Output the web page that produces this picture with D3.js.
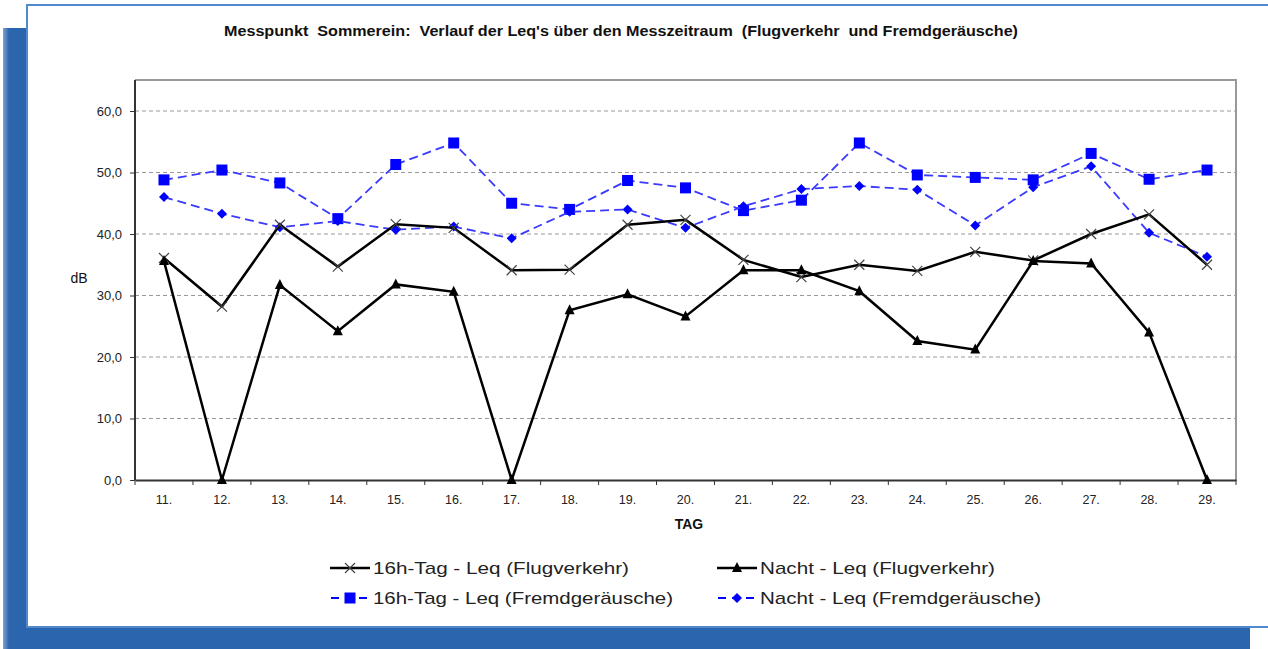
<!DOCTYPE html>
<html>
<head>
<meta charset="utf-8">
<script src="https://cdn.jsdelivr.net/npm/d3@7"></script>
<style>
    body { margin: 0; background: #fff; }
    svg { display: block; font-family: Arial, "Liberation Sans", sans-serif; }
</style>
</head>
<body>
<div id="chart"></div>
<script>
(function () {

    const days = ["11.", "12.", "13.", "14.", "15.", "16.", "17.", "18.", "19.", "20.",
        "21.", "22.", "23.", "24.", "25.", "26.", "27.", "28.", "29."]

    const tagFlug = [36.1, 28.2, 41.5, 34.7, 41.6, 41.0, 34.1, 34.2, 41.5, 42.3,
        35.8, 33.0, 35.0, 34.0, 37.1, 35.7, 40.0, 43.2, 35.0]
    const nachtFlug = [35.6, 0.0, 31.7, 24.2, 31.8, 30.6, 0.0, 27.6, 30.2, 26.6,
        34.1, 34.1, 30.7, 22.6, 21.2, 35.6, 35.2, 24.0, 0.0]
    const tagFremd = [48.8, 50.4, 48.3, 42.5, 51.3, 54.8, 45.0, 44.0, 48.7, 47.5,
        43.8, 45.5, 54.8, 49.6, 49.2, 48.8, 53.1, 48.9, 50.4]
    const nachtFremd = [46.0, 43.3, 41.1, 42.1, 40.7, 41.2, 39.3, 43.6, 44.0, 41.0,
        44.5, 47.3, 47.8, 47.2, 41.4, 47.6, 51.0, 40.2, 36.3]

    const yTicks = [0, 10, 20, 30, 40, 50, 60]

    const series = [
        { name: "16h-Tag - Leq (Flugverkehr)", values: tagFlug, color: "#000", dash: null, marker: "x" },
        { name: "Nacht - Leq (Flugverkehr)", values: nachtFlug, color: "#000", dash: null, marker: "tri" },
        { name: "16h-Tag - Leq (Fremdgeräusche)", values: tagFremd, color: "#3a3aff", dash: "9,5", marker: "sq" },
        { name: "Nacht - Leq (Fremdgeräusche)", values: nachtFremd, color: "#3a3aff", dash: "9,5", marker: "dia" }
    ]

    const width = 1268, height = 649
    const plot = { left: 135, right: 1236, top: 80, bottom: 480 }

    const svg = d3.select("#chart").append("svg")
        .attr("width", width)
        .attr("height", height)

    // blue backdrop + white card
    const grad = svg.append("defs").append("linearGradient")
        .attr("id", "edge").attr("x1", 0).attr("x2", 1)
    grad.append("stop").attr("offset", "0%").attr("stop-color", "#7fa3d1")
    grad.append("stop").attr("offset", "100%").attr("stop-color", "#2b65ad")
    svg.append("rect").attr("x", 3).attr("y", 28).attr("width", 1247).attr("height", 621).attr("fill", "#2b65ad")
    svg.append("rect").attr("x", 3).attr("y", 28).attr("width", 6).attr("height", 621).attr("fill", "url(#edge)")
    svg.append("rect").attr("x", 27).attr("y", 5).attr("width", 1260).attr("height", 622)
        .attr("fill", "#fff").attr("stroke", "#5089cc").attr("stroke-width", 2)

    svg.append("text")
        .attr("x", 224).attr("y", 36)
        .attr("font-size", 14).attr("font-weight", "bold")
        .attr("textLength", 794).attr("lengthAdjust", "spacingAndGlyphs")
        .attr("fill", "#111")
        .style("white-space", "pre")
        .text("Messpunkt  Sommerein:  Verlauf der Leq's über den Messzeitraum  (Flugverkehr  und Fremdgeräusche)")

    const x = d3.scaleBand().domain(days).range([plot.left, plot.right])
    const y = d3.scaleLinear().domain([0, 60]).range([plot.bottom, plot.top + 31])

    // plot frame (top/right grey)
    svg.append("path")
        .attr("d", `M${plot.left},${plot.top}H${plot.right}V${plot.bottom}`)
        .attr("fill", "none").attr("stroke", "#999").attr("stroke-width", 2)

    // gridlines
    svg.append("g").selectAll("line")
        .data(yTicks.filter(d => d > 0))
        .enter().append("line")
        .attr("x1", plot.left).attr("x2", plot.right)
        .attr("y1", d => y(d)).attr("y2", d => y(d))
        .attr("stroke", "#999").attr("stroke-dasharray", "4,3")

    const yAxis = svg.append("g")
        .attr("transform", `translate(${plot.left},0)`)
        .call(d3.axisLeft(y).tickValues(yTicks).tickSize(5).tickPadding(8)
            .tickFormat(d => d3.format(".1f")(d).replace(".", ",")))
    yAxis.select(".domain").attr("d", `M0,${plot.bottom}V${plot.top}`).attr("stroke", "#333").attr("stroke-width", 2)
    yAxis.selectAll(".tick line").attr("stroke", "#333")
    yAxis.selectAll("text").attr("font-size", 13).attr("fill", "#222").attr("font-family", "Arial, sans-serif")

    const xAxis = svg.append("g")
        .attr("transform", `translate(0,${plot.bottom})`)
        .call(d3.axisBottom(x).tickSize(0).tickPadding(15))
    xAxis.select(".domain").attr("stroke", "#333").attr("stroke-width", 2)
    xAxis.selectAll("text").attr("font-size", 12.5).attr("fill", "#222").attr("font-family", "Arial, sans-serif")
    xAxis.selectAll(".sep")
        .data(days.concat([null]))
        .enter().append("line")
        .attr("x1", (d, i) => plot.left + i * x.step()).attr("x2", (d, i) => plot.left + i * x.step())
        .attr("y1", 0).attr("y2", 5)
        .attr("stroke", "#333")

    svg.append("text").attr("x", 689).attr("y", 529).attr("text-anchor", "middle")
        .attr("font-size", 14).attr("font-weight", "bold").attr("fill", "#111").text("TAG")
    svg.append("text").attr("x", 79).attr("y", 283).attr("text-anchor", "middle")
        .attr("font-size", 14).attr("fill", "#111").text("dB")

    function drawMarker(g, type, color) {
        if (type === "x") {
            g.append("path").attr("d", "M-5,-5L5,5M-5,5L5,-5").attr("stroke", "#444").attr("stroke-width", 1.2).attr("fill", "none")
        } else if (type === "tri") {
            g.append("path").attr("d", "M0,-6L5,4L-5,4Z").attr("fill", "#000")
        } else if (type === "sq") {
            g.append("rect").attr("x", -5.5).attr("y", -5.5).attr("width", 11).attr("height", 11).attr("fill", "#0000ff")
        } else {
            g.append("path").attr("d", "M0,-5L5,0L0,5L-5,0Z").attr("fill", "#0000ff")
        }
    }

    const line = d3.line()
        .x((d, i) => x(days[i]) + x.bandwidth() / 2)
        .y(d => y(d))

    const plotG = svg.append("g")
    // draw Fremd first so Flug lines sit on top
    ;[2, 3, 0, 1].forEach(k => {
        const s = series[k]
        plotG.append("path")
            .attr("d", line(s.values))
            .attr("fill", "none")
            .attr("stroke", s.color)
            .attr("stroke-width", s.dash ? 1.8 : 2.5)
            .attr("stroke-dasharray", s.dash)
        s.values.forEach((v, i) => {
            const g = plotG.append("g")
                .attr("transform", `translate(${x(days[i]) + x.bandwidth() / 2},${y(v)})`)
            drawMarker(g, s.marker, s.color)
        })
    })

    // legend
    const legendPos = [[330, 568], [717, 568], [330, 598], [717, 598]]
    const legendLen = [256, 235, 300, 281]
    series.forEach((s, k) => {
        const [lx, ly] = legendPos[k]
        const g = svg.append("g").attr("transform", `translate(${lx},${ly})`)
        g.append("line").attr("x1", 0).attr("x2", 40).attr("y1", 0).attr("y2", 0)
            .attr("stroke", s.dash ? "#0000ff" : "#000")
            .attr("stroke-width", s.dash ? 1.8 : 2.5)
            .attr("stroke-dasharray", s.dash ? "8,6" : null)
            .attr("stroke-dashoffset", s.dash ? -1 : 0)
        const m = g.append("g").attr("transform", "translate(20,0)")
        drawMarker(m, s.marker, s.color)
        g.append("text").attr("x", 43).attr("y", 6)
            .attr("font-size", 17).attr("fill", "#222")
            .attr("textLength", legendLen[k]).attr("lengthAdjust", "spacingAndGlyphs")
            .text(s.name)
    })
})()
</script>
</body>
</html>
